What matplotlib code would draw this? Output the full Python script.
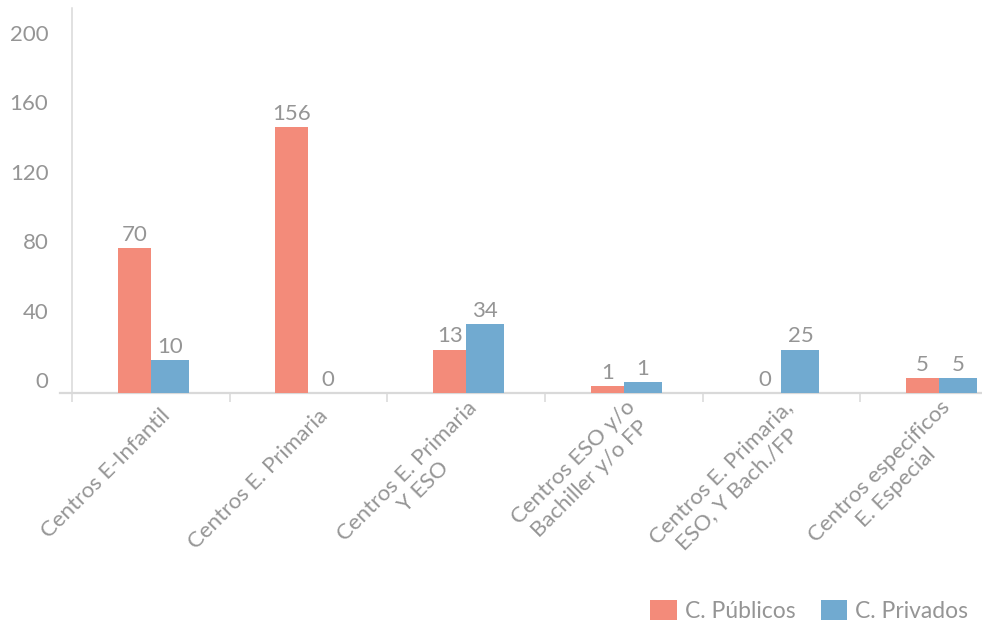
import numpy as np
import matplotlib.pyplot as plt
from matplotlib.transforms import ScaledTranslation

plt.rcParams['font.family'] = ['Lato', 'DejaVu Sans']

# ---- datos ----
categorias = ["Centros E-Infantil", "Centros E. Primaria", "Centros E. Primaria\nY ESO",
              "Centros ESO y/o\nBachiller y/o FP", "Centros E. Primaria,\nESO, Y Bach./FP",
              "Centros especificos\nE. Especial"]
# etiquetas mostradas sobre las barras
publicos_lbl = [70, 156, 13, 1, 0, 5]
privados_lbl = [10, 0, 34, 1, 25, 5]
# altura de las barras tal como aparecen dibujadas
publicos_h = [83.5, 153.0, 24.8, 4.0, 0.0, 8.6]
privados_h = [19.0, 0.0, 39.7, 6.3, 24.8, 8.6]
yticks = [0, 40, 80, 120, 160, 200]

C_PUB = "#F38B7A"
C_PRIV = "#71AAD0"
GRIS = "#959595"
LINEA = "#D9D9D9"

fig = plt.figure(figsize=(9.82, 6.26), dpi=100)
ax = fig.add_axes([72 / 982, 233 / 626, 946 / 982, 385 / 626])

x = np.arange(len(categorias))
ax.bar(x, publicos_h, width=-0.21, align="edge", color=C_PUB, label="C. Públicos")
ax.bar(x, privados_h, width=0.24, align="edge", color=C_PRIV, label="C. Privados")

for xi, h, v in zip(x, publicos_h, publicos_lbl):
    ax.annotate(str(v), (xi - 0.105, h), xytext=(0, 2.5), textcoords="offset points",
                ha="center", va="bottom", fontsize=16, color=GRIS)
for xi, h, v in zip(x, privados_h, privados_lbl):
    ax.annotate(str(v), (xi + 0.12, h), xytext=(0, 2.5), textcoords="offset points",
                ha="center", va="bottom", fontsize=16, color=GRIS)

ax.set_xlim(-0.5, 5.5)
ax.set_ylim(0, 221.8)

# eje y
ax.set_yticks(yticks)
ax.tick_params(axis="y", length=0, pad=17, labelsize=16, labelcolor=GRIS)
desp_y = ScaledTranslation(0, 13 / 100, fig.dpi_scale_trans)
for t in ax.get_yticklabels():
    t.set_transform(t.get_transform() + desp_y)

# eje x
ax.set_xticks(x)
ax.set_xticklabels(categorias, rotation=45, ha="right", va="center",
                   rotation_mode="anchor", multialignment="center", linespacing=1.2)
ax.set_xticks(np.arange(-0.5, 6, 1), minor=True)
ax.tick_params(axis="x", which="major", length=0, pad=14, labelsize=16, labelcolor=GRIS)
ax.tick_params(axis="x", which="minor", length=6.5, width=1.1, color=LINEA)
desp_x = ScaledTranslation(16 / 100, 0, fig.dpi_scale_trans)
for t in ax.get_xticklabels():
    t.set_transform(t.get_transform() + desp_x)

for s in ["top", "right", "bottom"]:
    ax.spines[s].set_visible(False)
ax.spines["left"].set_color(LINEA)
ax.spines["left"].set_linewidth(1.1)
ax.plot([-0.0127, 1], [0, 0], transform=ax.transAxes, color=LINEA, lw=1.6,
        clip_on=False, zorder=0.5)

fig.legend(loc="center right", bbox_to_anchor=(968 / 982, 1 - 611 / 626), ncol=2,
           frameon=False, fontsize=16.5, handlelength=1.15, handleheight=1.0,
           handletextpad=0.35, columnspacing=1.1, borderpad=0, borderaxespad=0,
           labelcolor=GRIS)

fig.savefig("out.png", dpi=100)
